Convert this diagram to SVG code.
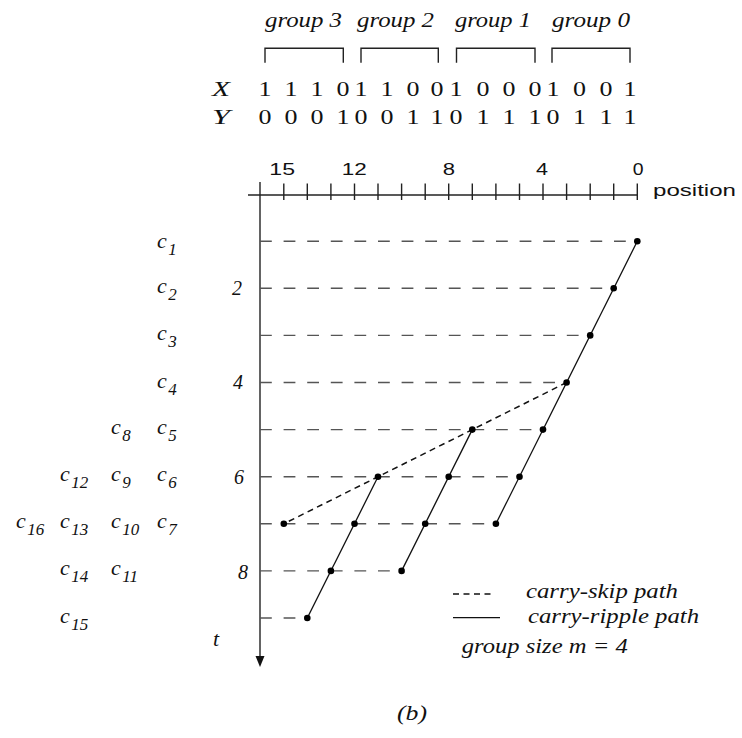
<svg xmlns="http://www.w3.org/2000/svg" width="742" height="738" viewBox="0 0 742 738">
<style>
.ti{font-family:"Liberation Serif","Times New Roman",serif;font-style:italic;fill:#111}
.tr{font-family:"Liberation Serif","Times New Roman",serif;fill:#111}
.ss{font-family:"Liberation Sans",Arial,sans-serif;fill:#111}
.g{font-size:20px}
.bit{font-size:20px}
.c{font-size:22px}
.sub{font-size:17px}
.ax{stroke:#222;stroke-width:1.4;fill:none}
.grid{stroke:#555;stroke-width:1.4;stroke-dasharray:11.8 11.8;fill:none}
.rip{stroke:#111;stroke-width:1.3;fill:none}
.skip{stroke:#111;stroke-width:1.5;stroke-dasharray:6 4.5;fill:none}
.dot{fill:#000}
.br{stroke:#222;stroke-width:1.4;fill:none}
</style>

<g id="groups-header">
  <text class="ti g" x="265" y="27" textLength="77" lengthAdjust="spacingAndGlyphs">group 3</text>
  <text class="ti g" x="357" y="27" textLength="77" lengthAdjust="spacingAndGlyphs">group 2</text>
  <text class="ti g" x="455" y="27" textLength="76" lengthAdjust="spacingAndGlyphs">group 1</text>
  <text class="ti g" x="552" y="27" textLength="78" lengthAdjust="spacingAndGlyphs">group 0</text>
  <path class="br" d="M265,62.7V48.3H343.3V62.7"/>
  <path class="br" d="M361,62.7V48.3H438.3V62.7"/>
  <path class="br" d="M456.5,62.7V48.3H535V62.7"/>
  <path class="br" d="M552,62.7V48.3H630V62.7"/>
</g>

<g id="operand-X">
  <text class="ti bit" x="212" y="95.7" textLength="18" lengthAdjust="spacingAndGlyphs">X</text>
  <text class="tr bit" x="258.5" y="95.7" textLength="13" lengthAdjust="spacingAndGlyphs">1</text>
  <text class="tr bit" x="284.5" y="95.7" textLength="13" lengthAdjust="spacingAndGlyphs">1</text>
  <text class="tr bit" x="310.5" y="95.7" textLength="13" lengthAdjust="spacingAndGlyphs">1</text>
  <text class="tr bit" x="336.5" y="95.7" textLength="13" lengthAdjust="spacingAndGlyphs">0</text>
  <text class="tr bit" x="354.5" y="95.7" textLength="13" lengthAdjust="spacingAndGlyphs">1</text>
  <text class="tr bit" x="380.5" y="95.7" textLength="13" lengthAdjust="spacingAndGlyphs">1</text>
  <text class="tr bit" x="406.5" y="95.7" textLength="13" lengthAdjust="spacingAndGlyphs">0</text>
  <text class="tr bit" x="430.5" y="95.7" textLength="13" lengthAdjust="spacingAndGlyphs">0</text>
  <text class="tr bit" x="449.5" y="95.7" textLength="13" lengthAdjust="spacingAndGlyphs">1</text>
  <text class="tr bit" x="476.5" y="95.7" textLength="13" lengthAdjust="spacingAndGlyphs">0</text>
  <text class="tr bit" x="502.5" y="95.7" textLength="13" lengthAdjust="spacingAndGlyphs">0</text>
  <text class="tr bit" x="528.5" y="95.7" textLength="13" lengthAdjust="spacingAndGlyphs">0</text>
  <text class="tr bit" x="546.5" y="95.7" textLength="13" lengthAdjust="spacingAndGlyphs">1</text>
  <text class="tr bit" x="573" y="95.7" textLength="13" lengthAdjust="spacingAndGlyphs">0</text>
  <text class="tr bit" x="599.5" y="95.7" textLength="13" lengthAdjust="spacingAndGlyphs">0</text>
  <text class="tr bit" x="623.5" y="95.7" textLength="13" lengthAdjust="spacingAndGlyphs">1</text>
</g>

<g id="operand-Y">
  <text class="ti bit" x="212" y="124.3" textLength="18" lengthAdjust="spacingAndGlyphs">Y</text>
  <text class="tr bit" x="258.5" y="124.3" textLength="13" lengthAdjust="spacingAndGlyphs">0</text>
  <text class="tr bit" x="284.5" y="124.3" textLength="13" lengthAdjust="spacingAndGlyphs">0</text>
  <text class="tr bit" x="310.5" y="124.3" textLength="13" lengthAdjust="spacingAndGlyphs">0</text>
  <text class="tr bit" x="336.5" y="124.3" textLength="13" lengthAdjust="spacingAndGlyphs">1</text>
  <text class="tr bit" x="354.5" y="124.3" textLength="13" lengthAdjust="spacingAndGlyphs">0</text>
  <text class="tr bit" x="380.5" y="124.3" textLength="13" lengthAdjust="spacingAndGlyphs">0</text>
  <text class="tr bit" x="406.5" y="124.3" textLength="13" lengthAdjust="spacingAndGlyphs">1</text>
  <text class="tr bit" x="430.5" y="124.3" textLength="13" lengthAdjust="spacingAndGlyphs">1</text>
  <text class="tr bit" x="449.5" y="124.3" textLength="13" lengthAdjust="spacingAndGlyphs">0</text>
  <text class="tr bit" x="476.5" y="124.3" textLength="13" lengthAdjust="spacingAndGlyphs">1</text>
  <text class="tr bit" x="502.5" y="124.3" textLength="13" lengthAdjust="spacingAndGlyphs">1</text>
  <text class="tr bit" x="528.5" y="124.3" textLength="13" lengthAdjust="spacingAndGlyphs">1</text>
  <text class="tr bit" x="546.5" y="124.3" textLength="13" lengthAdjust="spacingAndGlyphs">0</text>
  <text class="tr bit" x="573" y="124.3" textLength="13" lengthAdjust="spacingAndGlyphs">1</text>
  <text class="tr bit" x="599.5" y="124.3" textLength="13" lengthAdjust="spacingAndGlyphs">1</text>
  <text class="tr bit" x="623.5" y="124.3" textLength="13" lengthAdjust="spacingAndGlyphs">1</text>
</g>

<g id="position-axis">
  <line class="ax" x1="248" y1="195" x2="637.3" y2="195"/>
  <path class="ax" d="M283.8,183.5V200M307.3,183.5V200M330.9,183.5V200M354.5,183.5V200M378,183.5V200M401.6,183.5V200M425.2,183.5V200M448.7,183.5V200M472.3,183.5V200M495.9,183.5V200M519.5,183.5V200M543,183.5V200M566.6,183.5V200M590.2,183.5V200M613.7,183.5V200M637.3,183.5V200"/>
  <text class="ss" font-size="17" x="269.3" y="175" textLength="25.7" lengthAdjust="spacingAndGlyphs">15</text>
  <text class="ss" font-size="17" x="341.7" y="175" textLength="25" lengthAdjust="spacingAndGlyphs">12</text>
  <text class="ss" font-size="17" x="442.7" y="175" textLength="12.3" lengthAdjust="spacingAndGlyphs">8</text>
  <text class="ss" font-size="17" x="536" y="175" textLength="12" lengthAdjust="spacingAndGlyphs">4</text>
  <text class="ss" font-size="17" x="632.7" y="175" textLength="10.8" lengthAdjust="spacingAndGlyphs">0</text>
  <text class="ss" font-size="17" x="653" y="196" textLength="83" lengthAdjust="spacingAndGlyphs">position</text>
</g>

<g id="time-axis">
  <line class="ax" x1="260" y1="182" x2="260" y2="658"/>
  <polygon points="255.5,656 264.5,656 260,667" fill="#111"/>
  <text class="ti" font-size="20" x="232" y="294.8">2</text>
  <text class="ti" font-size="20" x="233" y="389">4</text>
  <text class="ti" font-size="20" x="234" y="483.7">6</text>
  <text class="ti" font-size="20" x="238" y="579">8</text>
  <text class="ti" font-size="22" x="213" y="646">t</text>
</g>

<g id="carry-labels">
  <text class="ti c" x="157" y="248.2">c<tspan class="sub" dx="1.5" dy="7">1</tspan></text>
  <text class="ti c" x="157" y="293.3">c<tspan class="sub" dx="1.5" dy="7">2</tspan></text>
  <text class="ti c" x="157" y="340.4">c<tspan class="sub" dx="1.5" dy="7">3</tspan></text>
  <text class="ti c" x="157" y="387.5">c<tspan class="sub" dx="1.5" dy="7">4</tspan></text>
  <text class="ti c" x="157" y="434.1">c<tspan class="sub" dx="1.5" dy="7">5</tspan></text>
  <text class="ti c" x="157" y="481.2">c<tspan class="sub" dx="1.5" dy="7">6</tspan></text>
  <text class="ti c" x="157" y="528.3">c<tspan class="sub" dx="1.5" dy="7">7</tspan></text>
  <text class="ti c" x="111" y="434.1">c<tspan class="sub" dx="1.5" dy="7">8</tspan></text>
  <text class="ti c" x="111" y="481.2">c<tspan class="sub" dx="1.5" dy="7">9</tspan></text>
  <text class="ti c" x="111" y="528.3">c<tspan class="sub" dx="1.5" dy="7">10</tspan></text>
  <text class="ti c" x="111" y="575.4">c<tspan class="sub" dx="1.5" dy="7">11</tspan></text>
  <text class="ti c" x="60" y="481.2">c<tspan class="sub" dx="1.5" dy="7">12</tspan></text>
  <text class="ti c" x="60" y="528.3">c<tspan class="sub" dx="1.5" dy="7">13</tspan></text>
  <text class="ti c" x="60" y="575.4">c<tspan class="sub" dx="1.5" dy="7">14</tspan></text>
  <text class="ti c" x="60" y="622.5">c<tspan class="sub" dx="1.5" dy="7">15</tspan></text>
  <text class="ti c" x="16" y="528.3">c<tspan class="sub" dx="1.5" dy="7">16</tspan></text>
</g>

<g id="connectors">
  <path class="grid" d="M260,241.2H637.3M260,288.3H613.7M260,335.4H590.2M260,382.5H566.6M260,429.6H543M260,476.7H519.5M260,523.8H495.9M260,570.9H401.6M260,618H307.3"/>
  <line class="rip" x1="637.3" y1="241.2" x2="495.9" y2="523.8"/>
  <line class="rip" x1="472.3" y1="429.6" x2="401.6" y2="570.9"/>
  <line class="rip" x1="378" y1="476.7" x2="307.3" y2="618"/>
  <line class="skip" x1="566.6" y1="382.5" x2="283.8" y2="523.8"/>
</g>

<g id="carry-points">
  <circle class="dot" cx="637.3" cy="241.2" r="3.3"/>
  <circle class="dot" cx="613.7" cy="288.3" r="3.3"/>
  <circle class="dot" cx="590.2" cy="335.4" r="3.3"/>
  <circle class="dot" cx="566.6" cy="382.5" r="3.3"/>
  <circle class="dot" cx="543" cy="429.6" r="3.3"/>
  <circle class="dot" cx="472.3" cy="429.6" r="3.3"/>
  <circle class="dot" cx="519.5" cy="476.7" r="3.3"/>
  <circle class="dot" cx="448.7" cy="476.7" r="3.3"/>
  <circle class="dot" cx="378" cy="476.7" r="3.3"/>
  <circle class="dot" cx="495.9" cy="523.8" r="3.3"/>
  <circle class="dot" cx="425.2" cy="523.8" r="3.3"/>
  <circle class="dot" cx="354.5" cy="523.8" r="3.3"/>
  <circle class="dot" cx="283.8" cy="523.8" r="3.3"/>
  <circle class="dot" cx="401.6" cy="570.9" r="3.3"/>
  <circle class="dot" cx="330.9" cy="570.9" r="3.3"/>
  <circle class="dot" cx="307.3" cy="618" r="3.3"/>
</g>

<g id="legend">
  <line class="skip" x1="453" y1="594" x2="494" y2="594"/>
  <line class="rip" x1="453" y1="617.7" x2="500" y2="617.7"/>
  <text class="ti" font-size="21" x="526" y="598.3" textLength="152" lengthAdjust="spacingAndGlyphs">carry-skip path</text>
  <text class="ti" font-size="21" x="528" y="623" textLength="171" lengthAdjust="spacingAndGlyphs">carry-ripple path</text>
  <text class="ti" font-size="21" x="461.7" y="653" textLength="166" lengthAdjust="spacingAndGlyphs">group size m = 4</text>
</g>

<g id="caption">
  <text class="ti" font-size="20" x="397" y="720" textLength="30" lengthAdjust="spacingAndGlyphs">(b)</text>
</g>
</svg>
